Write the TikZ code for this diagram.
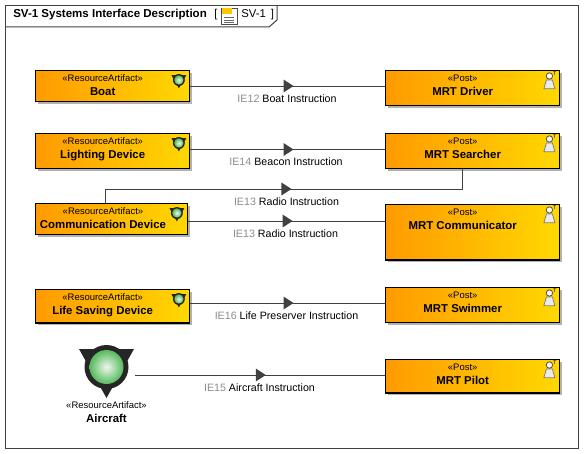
\documentclass[tikz,border=0pt]{standalone}
\usepackage{fontspec}
\setmainfont{Liberation Sans}
\usetikzlibrary{decorations.markings,shadows}
\definecolor{boxorange}{HTML}{FF9A00}
\definecolor{boxyellow}{HTML}{FFD800}
\definecolor{linegray}{HTML}{404040}
\definecolor{idgray}{HTML}{8C8C8C}
\definecolor{ballin}{HTML}{EEF8EE}
\definecolor{ballout}{HTML}{5CBC62}
\pgfdeclareradialshading{ballshade}{\pgfpoint{0bp}{0bp}}{color(0bp)=(ballin);color(24bp)=(ballout);color(50bp)=(ballout)}
\newcommand{\stereo}[1]{{\fontsize{7.1pt}{8pt}\selectfont «#1»}}
\newcommand{\flowid}[1]{\textcolor{idgray}{#1}}
\begin{document}
\begin{tikzpicture}[x=0.75pt,y=-0.75pt,
	box/.style={
		draw=black,
		line width=1pt,
		anchor=north west,
		inner sep=0pt,
		left color=boxorange,
		right color=boxyellow,
		general shadow={fill=black!30,shadow xshift=1.6pt,shadow yshift=-1.6pt}
	},
	boxtext/.style={anchor=north,align=center,inner sep=0pt,font=\fontsize{8.55pt}{10.6pt}\selectfont},
	flowtext/.style={inner sep=0pt,font=\fontsize{8pt}{9pt}\selectfont},
	flow/.style={draw=linegray,line width=0.75pt,postaction={decorate},decoration={markings,
		mark=at position #1 with {\fill[linegray] (-10,-6.5) -- (0,0) -- (-10,6.5) -- cycle;}}},
	artifacticon/.pic={
		\fill[black!85] (-27.5,-18) -- (27.5,-18) -- (0,31) -- cycle;
		\fill[black!85] (0,0) circle (22);
		\shade[shading=ballshade] (0,0) circle (17);
	},
	posticon/.pic={
		\draw[draw=black!50,fill=black!8,line width=0.6pt] (-3,0) -- (3,0) -- (5.5,8.7) -- (-5.5,8.7) -- cycle;
		\draw[draw=black!70,fill=white,line width=0.6pt] (0,-4) circle (3.2);
	}
	]
	\useasboundingbox (0,0) rectangle (584,453);
	
	%Rahmen
	\draw[draw=linegray,line width=0.75pt] (5.5,5.5) rectangle (578,448);
	\draw[draw=linegray,line width=0.75pt] (5.5,27) -- (269,27) -- (277,20) -- (277,5.5);
	\node[anchor=west,inner sep=0pt,font=\fontsize{8.65pt}{10pt}\selectfont\bfseries] (title) at (13,14.5) {SV-1 Systems Interface Description};
	\node[anchor=west,inner sep=0pt,font=\fontsize{8.5pt}{10pt}\selectfont] (bra) at (214,14.5) {[};
	\node[anchor=west,inner sep=0pt,font=\fontsize{8.5pt}{10pt}\selectfont] (ket) at (241,14.5) {SV-1 \,]};
	
	%Symbol im Titel
	\draw[draw=black!70,fill=white,line width=0.5pt] (221,8) rectangle (237,24);
	\fill[boxyellow!80!orange] (221.5,8.5) rectangle (232,14);
	\draw[black!60,line width=0.7pt] (224,17) -- (234,17);
	\draw[black!60,line width=0.7pt] (224,20) -- (234,20);
	\draw[black!60,line width=0.7pt] (224,22.5) -- (234,22.5);
	
	%Ressourcen links
	\node[box,minimum width=115.5pt,minimum height=23.2pt] (boat) at (35,70) {};
	\node[box,minimum width=115.5pt,minimum height=26.2pt] (light) at (35,133) {};
	\node[box,minimum width=114pt,minimum height=23.2pt] (comm) at (35,203) {};
	\node[box,minimum width=115.5pt,minimum height=25pt] (life) at (35,289) {};
	
	\node[boxtext] (boat-t) at ([xshift=-7.5pt,yshift=-3.4pt]boat.north) {\stereo{ResourceArtifact}\\\textbf{Boat}};
	\node[boxtext] (light-t) at ([xshift=-7.5pt,yshift=-3.4pt]light.north) {\stereo{ResourceArtifact}\\\textbf{Lighting Device}};
	\node[boxtext] (comm-t) at ([xshift=-6.5pt,yshift=-3.4pt]comm.north) {\stereo{ResourceArtifact}\\\textbf{Communication Device}};
	\node[boxtext] (life-t) at ([xshift=-7.5pt,yshift=-3.4pt]life.north) {\stereo{ResourceArtifact}\\\textbf{Life Saving Device}};
	
	\pic[scale=0.27] at ([xshift=-8.6pt,yshift=-7.5pt]boat.north east) {artifacticon};
	\pic[scale=0.27] at ([xshift=-8.6pt,yshift=-7.5pt]light.north east) {artifacticon};
	\pic[scale=0.27] at ([xshift=-8.6pt,yshift=-7.5pt]comm.north east) {artifacticon};
	\pic[scale=0.27] at ([xshift=-8.6pt,yshift=-7.5pt]life.north east) {artifacticon};
	
	%Posten rechts
	\node[box,minimum width=130.5pt,minimum height=26.2pt] (driver) at (385,70) {};
	\node[box,minimum width=130.5pt,minimum height=26.2pt] (search) at (385,133) {};
	\node[box,minimum width=130.5pt,minimum height=41.5pt] (commer) at (385,204) {};
	\node[box,minimum width=130.5pt,minimum height=26.2pt] (swim) at (385,287) {};
	\node[box,minimum width=130.5pt,minimum height=25pt] (pilot) at (385,359) {};
	
	\node[boxtext] (driver-t) at ([xshift=-7.5pt,yshift=-3.4pt]driver.north) {\stereo{Post}\\\textbf{MRT Driver}};
	\node[boxtext] (search-t) at ([xshift=-7.5pt,yshift=-3.4pt]search.north) {\stereo{Post}\\\textbf{MRT Searcher}};
	\node[boxtext] (commer-t) at ([xshift=-7.5pt,yshift=-3.4pt]commer.north) {\stereo{Post}\\\textbf{MRT Communicator}};
	\node[boxtext] (swim-t) at ([xshift=-7.5pt,yshift=-3.4pt]swim.north) {\stereo{Post}\\\textbf{MRT Swimmer}};
	\node[boxtext] (pilot-t) at ([xshift=-7.5pt,yshift=-3.4pt]pilot.north) {\stereo{Post}\\\textbf{MRT Pilot}};
	
	\foreach \post in {driver,search,commer,swim,pilot}{
		\pic at ([xshift=-8.2pt,yshift=-7.5pt]\post.north east) {posticon};
		\node[inner sep=0pt,font=\fontsize{4pt}{4pt}\selectfont] (\post-T) at ([xshift=-4.2pt,yshift=-3pt]\post.north east) {T};
	}
	
	%Aircraft
	\pic at (106.5,367) {artifacticon};
	\node[boxtext] (aircraft) at (106.5,401) {\stereo{ResourceArtifact}\\\textbf{Aircraft}};
	\coordinate (aircraft-e) at (135,375);
	
	%Verbindungen
	\draw[flow=0.53] (boat.east |- 0,86) -- (driver.west |- 0,86);
	\draw[flow=0.53] (light.east |- 0,149.5) -- (search.west |- 0,149.5);
	\draw[flow=0.513] (comm.north -| 105,0) -- (105,189) -- (462,189) -- (search.south -| 462,0);
	\draw[flow=0.53] (comm.east |- 0,221) -- (commer.west |- 0,221);
	\draw[flow=0.53] (life.east |- 0,303) -- (swim.west |- 0,303);
	\draw[flow=0.523] (aircraft-e) -- (pilot.west |- aircraft-e);
	
	\node[flowtext] (ie12) at (287,98.5) {\flowid{IE12} Boat Instruction};
	\node[flowtext] (ie14) at (286,161.5) {\flowid{IE14} Beacon Instruction};
	\node[flowtext] (ie13a) at (286.5,201.5) {\flowid{IE13} Radio Instruction};
	\node[flowtext] (ie13b) at (285.5,233.5) {\flowid{IE13} Radio Instruction};
	\node[flowtext] (ie16) at (286.5,315.5) {\flowid{IE16} Life Preserver Instruction};
	\node[flowtext] (ie15) at (259.5,387.5) {\flowid{IE15} Aircraft Instruction};
\end{tikzpicture}
\end{document}
